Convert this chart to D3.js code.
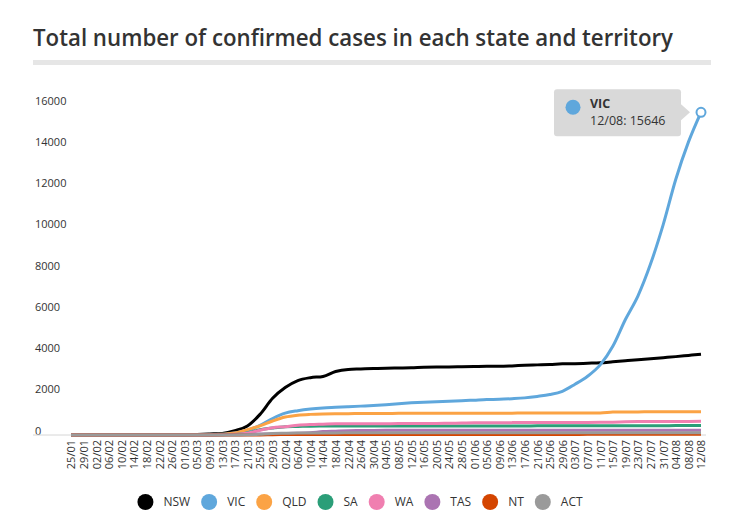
<!DOCTYPE html>
<html>
<head>
<meta charset="utf-8">
<script src="https://cdn.jsdelivr.net/npm/d3@7"></script>
<style>
body {margin: 0; background: #fff;}
text {font-family: "Open Sans", "DejaVu Sans", sans-serif; fill: #333;}
</style>
</head>
<body>
<div id="chart"></div>
<script>
// dates (2020), one point every 4 days
var dates = ["25/01","29/01","02/02","06/02","10/02","14/02","18/02","22/02","26/02","01/03",
    "05/03","09/03","13/03","17/03","21/03","25/03","29/03","02/04","06/04","10/04",
    "14/04","18/04","22/04","26/04","30/04","04/05","08/05","12/05","16/05","20/05",
    "24/05","28/05","01/06","05/06","09/06","13/06","17/06","21/06","25/06","29/06",
    "03/07","07/07","11/07","15/07","19/07","23/07","27/07","31/07","04/08","08/08","12/08"];

// cumulative confirmed cases per state
var nsw = [3,4,4,4,4,4,4,4,4,6, 22,48,78,210,440,1000,1780,2300,2640,2780,
    2840,3080,3180,3200,3220,3240,3250,3260,3290,3300, 3300,3310,3320,3330,3330,3350,3380,3400,3420,3450,
    3460,3480,3500,3550,3600,3650,3700,3750,3800,3860,3920];
var vic = [1,2,4,4,4,4,4,4,4,7, 10,15,36,94,229,466,800,1060,1180,1260,
    1310,1340,1370,1400,1430,1470,1520,1560,1590,1610, 1640,1660,1690,1720,1730,1760,1800,1870,1960,2120,
    2460,2850,3400,4300,5600,6750,8300,10200,12400,14200,15646];
var qld = [0,1,3,5,5,5,5,5,5,9, 13,15,35,94,259,443,680,870,960,1000,
    1020,1030,1035,1040,1045,1045,1050,1050,1050,1055, 1055,1055,1058,1060,1060,1060,1062,1062,1065,1065,
    1067,1068,1070,1110,1120,1120,1125,1125,1128,1130,1130];
var sa = [0,0,0,0,0,2,2,2,2,3, 7,7,16,29,100,257,337,396,411,429,
    433,435,438,438,438,439,439,439,439,439, 440,440,440,440,440,440,440,443,443,443,
    443,443,443,443,445,448,450,452,455,458,460];
var wa = [0,0,0,0,0,0,0,0,0,2, 3,4,11,31,90,231,355,400,470,505,
    523,541,548,549,551,551,552,557,557,557, 570,580,592,592,599,600,601,602,605,610,
    611,612,615,622,640,651,655,657,660,660,662];
var tas = [0,0,0,0,0,0,0,0,0,1, 1,3,7,10,22,47,66,72,86,111,
    165,187,207,214,221,225,226,226,226,227, 228,228,228,228,228,228,228,228,228,228,
    228,228,228,228,229,229,229,229,229,229,229];
var nt = [0,0,0,0,0,0,0,0,0,0, 0,0,1,1,5,6,15,21,27,28,
    28,28,28,28,28,29,29,29,29,29, 29,29,29,29,29,29,29,29,29,30,
    30,31,31,31,31,31,32,32,33,33,33];
var act = [0,0,0,0,0,0,0,0,0,0, 0,0,1,2,9,39,71,84,96,103,
    103,103,104,106,106,107,107,107,107,107, 107,107,107,107,108,108,108,108,108,108,
    108,108,108,110,110,113,113,113,113,113,113];

var states = ["NSW","VIC","QLD","SA","WA","TAS","NT","ACT"];
var colors = ["#000000","#5fa7dc","#fba345","#2b9e78","#f07fb0","#ab74b2","#d44500","#9a9a9a"];
var yTicks = [0,2000,4000,6000,8000,10000,12000,14000,16000];

var seriesValues = [nsw, vic, qld, sa, wa, tas, nt, act];
var parseDate = d3.timeParse("%d/%m/%Y");
var days = dates.map(function(d){return parseDate(d + "/2020")});

var W = 731, H = 519;
var svg = d3.select("#chart").append("svg").attr("width", W).attr("height", H);

// title + grey rule
svg.append("text")
    .attr("x", 33).attr("y", 46)
    .attr("textLength", 640).attr("lengthAdjust", "spacingAndGlyphs")
    .style("font-size", "23px").style("font-weight", 600)
    .text("Total number of confirmed cases in each state and territory");
svg.append("rect").attr("x", 33).attr("y", 60).attr("width", 678).attr("height", 5).attr("fill", "#e6e6e6");

// scales
var x = d3.scaleTime().domain(d3.extent(days)).range([71, 701]);
var y = d3.scaleLinear().domain([0, 16000]).range([435, 105]);

// y axis, labels sit left aligned above their value
var yAxis = d3.axisRight(y).tickValues(yTicks).tickSize(0).tickPadding(0).tickFormat(d3.format("d"));
var gy = svg.append("g").attr("transform", "translate(35,0)").call(yAxis);
gy.select(".domain").remove();
gy.selectAll("text").attr("dy", "-1").style("font-size", "11px").style("font-family", "'Open Sans', sans-serif").attr("fill", "#333");

// zero line
svg.append("line").attr("x1", 33).attr("x2", 706).attr("y1", y(0)).attr("y2", y(0))
    .attr("stroke", "#d6d6d6").attr("stroke-width", 1);

// x axis, rotated labels
var xAxis = d3.axisBottom(x).tickValues(days).tickSize(0).tickFormat(d3.timeFormat("%d/%m"));
var gx = svg.append("g").attr("transform", "translate(0," + y(0) + ")").call(xAxis);
gx.select(".domain").remove();
gx.selectAll("text")
    .attr("transform", "rotate(-90)")
    .attr("x", -5).attr("y", 0).attr("dy", "0.35em")
    .style("text-anchor", "end")
    .style("font-size", "11px").style("font-family", "'Open Sans', sans-serif").attr("fill", "#333");

// lines
var line = d3.line()
    .x(function(d){return x(d.date)})
    .y(function(d){return y(d.value)})
    .curve(d3.curveMonotoneX);

var series = states.map(function(s, i){
    return {name: s, color: colors[i], values: seriesValues[i].map(function(v, j){return {date: days[j], value: v}})};
});

svg.append("g").attr("class", "lines")
    .selectAll("path")
    .data(series)
    .enter()
    .append("path")
    .attr("d", function(d){return line(d.values)})
    .attr("fill", "none")
    .attr("stroke", function(d){return d.color})
    .attr("stroke-width", 3)
    .attr("stroke-linejoin", "round");

// tooltip on last VIC point
var vicSeries = series[1];
var last = vicSeries.values[vicSeries.values.length - 1];
var px = x(last.date), py = y(last.value);
var tip = svg.append("g").attr("class", "tooltip");
var tipRight = px - 20, boxW = 127, boxH = 47;
tip.append("rect")
    .attr("x", tipRight - boxW).attr("y", py - 23).attr("width", boxW).attr("height", boxH)
    .attr("rx", 3).attr("fill", "#d9d9d9");
tip.append("path")
    .attr("d", "M" + tipRight + "," + (py - 8) + "L" + (tipRight + 9) + "," + py + "L" + tipRight + "," + (py + 8) + "Z")
    .attr("fill", "#d9d9d9");
tip.append("circle").attr("cx", tipRight - boxW + 19).attr("cy", py - 5).attr("r", 7.5).attr("fill", vicSeries.color);
tip.append("text").attr("x", tipRight - boxW + 36).attr("y", py - 4)
    .style("font-size", "12.5px").style("font-weight", 700).attr("fill", "#444").text(vicSeries.name);
tip.append("text").attr("x", tipRight - boxW + 36).attr("y", py + 13)
    .style("font-size", "12.5px").attr("fill", "#444")
    .text(d3.timeFormat("%d/%m")(last.date) + ": " + last.value);
svg.append("circle").attr("cx", px).attr("cy", py).attr("r", 4.5)
    .attr("fill", "#fff").attr("stroke", vicSeries.color).attr("stroke-width", 2);

// legend, centered under the chart
var legend = svg.append("g").attr("class", "legend");
var items = legend.selectAll("g").data(series).enter().append("g");
items.append("circle").attr("r", 8).attr("cy", 0).attr("fill", function(d){return d.color});
items.append("text").attr("x", 18).attr("y", 0).attr("dy", "0.35em")
    .style("font-size", "12px").attr("fill", "#444").text(function(d){return d.name});
var cursor = 0;
items.each(function(){
    var g = d3.select(this);
    g.attr("transform", "translate(" + (cursor + 8) + ",0)");
    cursor += 26 + g.select("text").node().getComputedTextLength() + 11;
});
cursor -= 11;
legend.attr("transform", "translate(" + (360 - cursor / 2) + ",502)");
</script>
</body>
</html>
